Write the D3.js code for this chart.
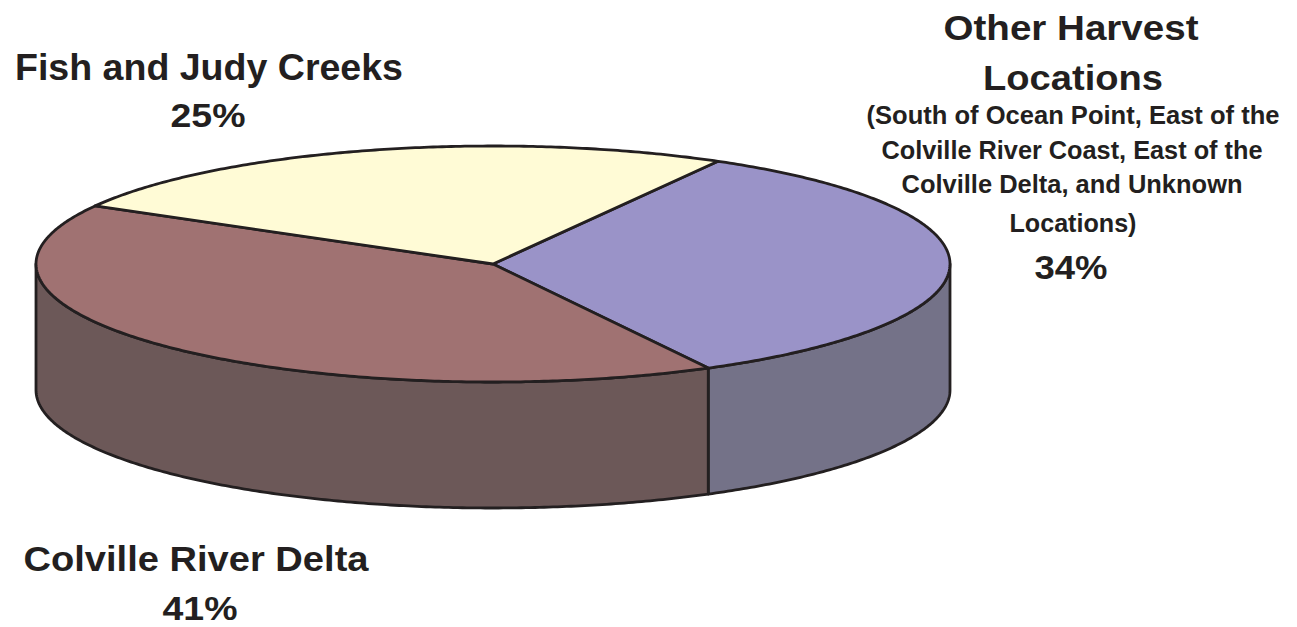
<!DOCTYPE html>
<html><head><meta charset="utf-8">
<script src="https://cdn.jsdelivr.net/npm/d3@7"></script>
<style>body{margin:0;background:#fff}svg{display:block}text{font-family:Arial,"Liberation Sans",Helvetica,sans-serif;font-weight:bold;fill:#231f20}</style>
</head><body><svg id="c" width="1297" height="627"></svg>
<script>
const categories = ["Other Harvest Locations", "Colville River Delta", "Fish and Judy Creeks"];
const values = [34, 41, 25];
const topColors = ["#9a93c8", "#a07272", "#fffbd6"];
const sideColors = ["#747288", "#6c5858", "#c9c6a8"];

const svg = d3.select("#c");
const cx = 493, cy = 264, rx = 457, ry = 118, depth = 126;
const pie = d3.pie().sort(null).value(d => d).startAngle(29.5 * Math.PI / 180).endAngle(29.5 * Math.PI / 180 + 2 * Math.PI);
const arcs = pie(values);
const px = a => cx + rx * Math.sin(a);
const py = a => cy - ry * Math.cos(a);
const stroke = "#231f20", sw = 2.8;

function edge(a0, a1, dy) {
  const n = Math.max(2, Math.ceil(Math.abs(a1 - a0) / 0.01));
  const pts = [];
  for (let i = 0; i <= n; i++) { const a = a0 + (a1 - a0) * i / n; pts.push([px(a), py(a) + dy]); }
  return pts;
}
const line = d3.line();

arcs.forEach((d, i) => {
  const a0 = Math.max(d.startAngle, Math.PI / 2), a1 = Math.min(d.endAngle, 3 * Math.PI / 2);
  if (a1 <= a0) return;
  const pts = edge(a0, a1, 0).concat(edge(a1, a0, depth));
  svg.append("path").attr("d", line(pts) + "Z").attr("fill", sideColors[i])
    .attr("stroke", stroke).attr("stroke-width", sw).attr("stroke-linejoin", "round");
});

arcs.forEach((d, i) => {
  const pts = [[cx, cy]].concat(edge(d.startAngle, d.endAngle, 0));
  svg.append("path").attr("d", line(pts) + "Z").attr("fill", topColors[i])
    .attr("stroke", stroke).attr("stroke-width", sw).attr("stroke-linejoin", "round");
});

// [text, centerX, baselineY, fontSize, width]
const labels = [
  {lines: [["Other Harvest", 1071, 40, 35, 255], ["Locations", 1073, 90, 35, 180],
           ["(South of Ocean Point, East of the", 1073, 124, 25, 413], ["Colville River Coast, East of the", 1072, 159, 25, 381],
           ["Colville Delta, and Unknown", 1072, 193, 25, 341], ["Locations)", 1073, 232, 25, 127]], pct: [1071, 279, 73]},
  {lines: [["Colville River Delta", 196, 571, 35, 345]], pct: [200, 620, 75]},
  {lines: [["Fish and Judy Creeks", 209, 80, 36, 388]], pct: [208, 127, 75]}
];
labels.forEach((l, i) => {
  l.lines.forEach(t => svg.append("text").attr("x", t[1]).attr("y", t[2]).attr("text-anchor", "middle")
    .attr("font-size", t[3]).attr("textLength", t[4]).attr("lengthAdjust", "spacingAndGlyphs").text(t[0]));
  svg.append("text").attr("x", l.pct[0]).attr("y", l.pct[1]).attr("text-anchor", "middle")
    .attr("font-size", 34).attr("textLength", l.pct[2]).attr("lengthAdjust", "spacingAndGlyphs").text(values[i] + "%");
});
</script></body></html>
